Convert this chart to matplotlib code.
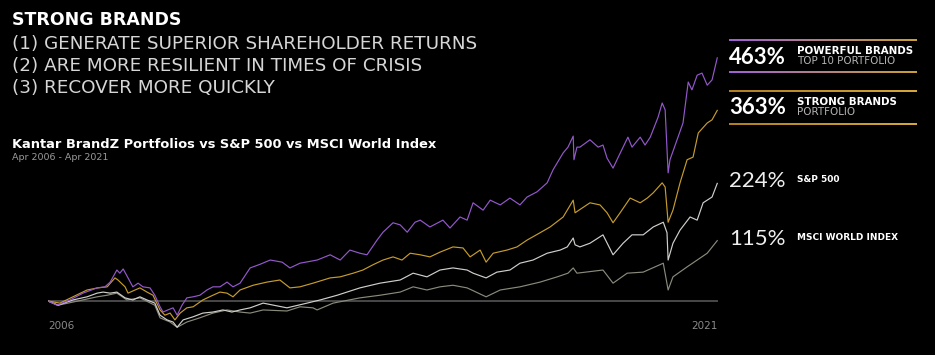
import numpy as np
import matplotlib.pyplot as plt
from matplotlib.colors import LinearSegmentedColormap

# months since Apr 2006 and cumulative return (%)
powerful_m = [0, 2.4, 5.9, 9.4, 13.2, 15.3, 16.7, 18.5, 19.3, 20.2, 21.5, 22.8, 24.2, 25.5, 27.4, 28.7,
              30.1, 30.9, 32.2, 33.6, 34.7, 36.0, 37.3, 39.0, 40.8, 42.7, 44.3, 46.2, 48.1, 49.7, 51.6,
              54.3, 57.0, 59.7, 62.9, 65.0, 67.7, 72.3, 75.8, 78.5, 81.1, 83.8, 85.7, 88.4, 90.0, 92.7,
              94.6, 96.5, 98.6, 100.0, 102.6, 106.1, 108.0, 110.7, 112.6, 114.2, 116.9, 118.8, 121.5,
              124.1, 126.8, 128.7, 131.4, 134.1, 135.7, 138.4, 139.7, 141.1, 141.3, 142.1, 142.9, 145.6,
              147.8, 149.1, 150.2, 151.8, 153.2, 155.8, 156.9, 159.1, 160.4, 161.8, 163.9, 165.0, 165.8,
              166.6, 167.1, 169.0, 170.6, 172.0, 173.0, 174.4, 175.7, 177.1, 178.4, 179.8]
powerful_v = [0, -8, 2, 15, 25, 27, 36, 59, 53, 61, 44, 27, 34, 27, 25, 11,
              -11, -21, -17, -13, -27, -8, 6, 8, 11, 21, 27, 27, 36, 27, 34,
              63, 70, 78, 74, 63, 72, 78, 88, 78, 97, 91, 88, 116, 131, 149,
              145, 131, 150, 154, 141, 154, 139, 160, 154, 187, 173, 192, 183,
              196, 183, 198, 208, 225, 250, 282, 293, 314, 269, 293, 293, 307,
              293, 297, 272, 253, 274, 312, 293, 312, 297, 312, 350, 377, 364,
              244, 269, 307, 339, 417, 402, 430, 434, 411, 421, 463]

strong_m = [0, 3.2, 6.7, 10.5, 13.4, 15.9, 18.0, 18.8, 20.7, 21.5, 23.4, 24.7, 26.6, 28.2, 30.1,
            31.4, 32.8, 34.1, 35.5, 37.3, 39.0, 41.6, 44.3, 46.2, 48.1, 49.7, 51.6, 55.1, 58.8, 62.3,
            65.0, 67.7, 71.2, 75.8, 78.5, 82.0, 84.6, 87.3, 90.0, 92.7, 95.1, 97.3, 100.0, 102.6,
            105.3, 108.8, 111.5, 113.4, 116.1, 117.7, 119.6, 123.3, 126.0, 128.7, 132.2, 134.9,
            138.4, 141.1, 141.6, 145.6, 148.3, 150.2, 151.8, 153.7, 156.4, 159.1, 161.0, 162.6,
            165.0, 165.8, 166.6, 167.9, 169.8, 171.7, 173.3, 174.7, 177.1, 178.4, 179.8]
strong_v = [0, -4, 8, 21, 25, 27, 44, 40, 27, 15, 21, 25, 17, 11, -17,
            -27, -23, -36, -23, -13, -11, 2, 11, 17, 15, 8, 21, 30, 36, 40,
            25, 27, 34, 44, 46, 53, 59, 69, 78, 84, 78, 91, 88, 84,
            93, 103, 101, 84, 97, 74, 91, 97, 103, 116, 130, 141,
            160, 192, 168, 187, 183, 168, 149, 168, 196, 187, 196, 206,
            225, 217, 150, 173, 225, 269, 274, 320, 339, 345, 363]

sp_m = [0, 2.7, 6.7, 10.5, 13.2, 14.8, 16.7, 18.5, 20.7, 22.8, 24.7, 26.6, 28.7, 30.1, 32.0,
        33.6, 34.7, 36.3, 39.0, 41.6, 44.3, 47.0, 49.4, 51.6, 54.3, 57.8, 64.2, 69.6, 73.1, 77.7,
        83.8, 89.2, 94.6, 98.1, 101.8, 105.3, 108.8, 112.6, 114.2, 117.7, 120.6, 124.1, 126.8,
        130.3, 134.1, 137.6, 139.5, 141.1, 141.6, 142.9, 145.6, 149.1, 151.8, 154.5, 156.9,
        159.9, 162.6, 165.3, 166.3, 166.6, 167.9, 169.8, 172.5, 174.4, 176.0, 178.4, 179.8]
sp_v = [0, -8, 2, 8, 15, 17, 15, 17, 6, 2, 8, 2, -4, -27, -36,
        -40, -50, -36, -30, -23, -21, -17, -21, -17, -13, -4, -13, -4, 2, 11,
        25, 34, 40, 53, 46, 59, 63, 59, 53, 44, 55, 59, 72,
        78, 91, 97, 103, 120, 107, 103, 110, 126, 88, 110, 126,
        126, 141, 150, 130, 78, 110, 135, 160, 154, 187, 198, 224]

msci_m = [0, 2.7, 6.7, 13.2, 15.9, 18.5, 21.2, 24.7, 28.7, 30.1, 32.8, 34.7, 37.3, 40.8, 44.3,
          48.1, 51.6, 54.3, 57.8, 64.2, 67.7, 71.2, 72.3, 76.6, 83.8, 89.2, 94.6, 98.1, 101.8,
          105.3, 108.8, 112.6, 117.7, 121.5, 126.8, 132.2, 136.8, 139.7, 141.1, 142.1, 149.1,
          151.8, 155.6, 159.9, 165.3, 166.6, 167.9, 171.7, 174.4, 177.1, 179.8]
msci_v = [0, -8, -2, 8, 11, 15, 2, 6, -8, -32, -40, -50, -40, -32, -23,
          -17, -21, -23, -17, -19, -11, -13, -17, -4, 6, 11, 17, 27, 21,
          27, 30, 25, 8, 21, 27, 36, 46, 53, 63, 53, 59,
          34, 53, 55, 72, 21, 46, 65, 78, 91, 115]

purple = "#9458cc"
gold = "#c69c2c"
light = "#cfcfcc"
grey = "#8a8a7c"

fig = plt.figure(figsize=(9.35, 3.55), dpi=100, facecolor="black")
ax = fig.add_axes([48/935, 25/355, 670/935, 290/355])
ax.set_facecolor("black")
ax.axhline(0, color="#555555", lw=1.2, zorder=1)
ax.plot(msci_m, msci_v, color=grey, lw=0.85, zorder=2)
ax.plot(sp_m, sp_v, color=light, lw=0.85, zorder=3)
ax.plot(strong_m, strong_v, color=gold, lw=0.85, zorder=4)
ax.plot(powerful_m, powerful_v, color=purple, lw=0.85, zorder=5)
ax.set_xlim(0, 180)
ax.set_ylim(-55.2, 497)
ax.axis("off")

# overlay in pixel coordinates for text and decorations
ov = fig.add_axes([0, 0, 1, 1], facecolor="none")
ov.axis("off")

fam = ["DejaVu Sans"]
num = ["Lato", "DejaVu Sans"]
ov.text(12, 20, "STRONG BRANDS", color="white", fontsize=12.5, fontweight="bold",
        family=fam, va="center")
for i, s in enumerate(["(1) GENERATE SUPERIOR SHAREHOLDER RETURNS",
                       "(2) ARE MORE RESILIENT IN TIMES OF CRISIS",
                       "(3) RECOVER MORE QUICKLY"]):
    ov.text(12, 44 + 22*i, s, color="#d6d6d6", fontsize=13.2,
            family=fam, va="center")
ov.text(12, 144, "Kantar BrandZ Portfolios vs S&P 500 vs MSCI World Index", color="white",
        fontsize=9.4, fontweight="bold", family=fam, va="center")
ov.text(12, 158, "Apr 2006 - Apr 2021", color="#9a9a9a", fontsize=6.8, family=fam, va="center")
ov.text(48, 326, "2006", color="#8a8a8a", fontsize=7.5, family=fam, va="center")
ov.text(718, 326, "2021", color="#8a8a8a", fontsize=7.5, family=fam, va="center", ha="right")


def grad_line(y, c1, c2):
    cm = LinearSegmentedColormap.from_list("g", [c1, c2])
    ov.imshow(np.linspace(0, 1, 200)[None, :], cmap=cm, aspect="auto",
              extent=(729, 917, y + 1, y - 1), interpolation="bilinear")


grad_line(40, "#a060d8", "#c9a030")
grad_line(72, "#a060d8", "#c9a030")
grad_line(91, "#b08020", "#d4a838")
grad_line(124, "#b08020", "#d4a838")
ov.set_xlim(0, 935)
ov.set_ylim(355, 0)

ov.text(729, 57, "463%", color="white", fontsize=16, fontweight="bold", family=num, va="center")
ov.text(797, 51, "POWERFUL BRANDS", color="white", fontsize=7.4, fontweight="bold",
        family=fam, va="center")
ov.text(797, 61, "TOP 10 PORTFOLIO", color="#b5b5b5", fontsize=7.4, family=fam, va="center")
ov.text(729, 108, "363%", color="white", fontsize=16, fontweight="bold", family=num, va="center")
ov.text(797, 102, "STRONG BRANDS", color="white", fontsize=7.4, fontweight="bold",
        family=fam, va="center")
ov.text(797, 112, "PORTFOLIO", color="#b5b5b5", fontsize=7.4, family=fam, va="center")
ov.text(729, 181, "224%", color="#eeeeee", fontsize=16, family=num, va="center")
ov.text(797, 179, "S&P 500", color="white", fontsize=6.5, fontweight="bold", family=fam, va="center")
ov.text(729, 239, "115%", color="#eeeeee", fontsize=16, family=num, va="center")
ov.text(797, 238, "MSCI WORLD INDEX", color="white", fontsize=6.5, fontweight="bold",
        family=fam, va="center")

fig.savefig("out.png", dpi=100, facecolor="black")
